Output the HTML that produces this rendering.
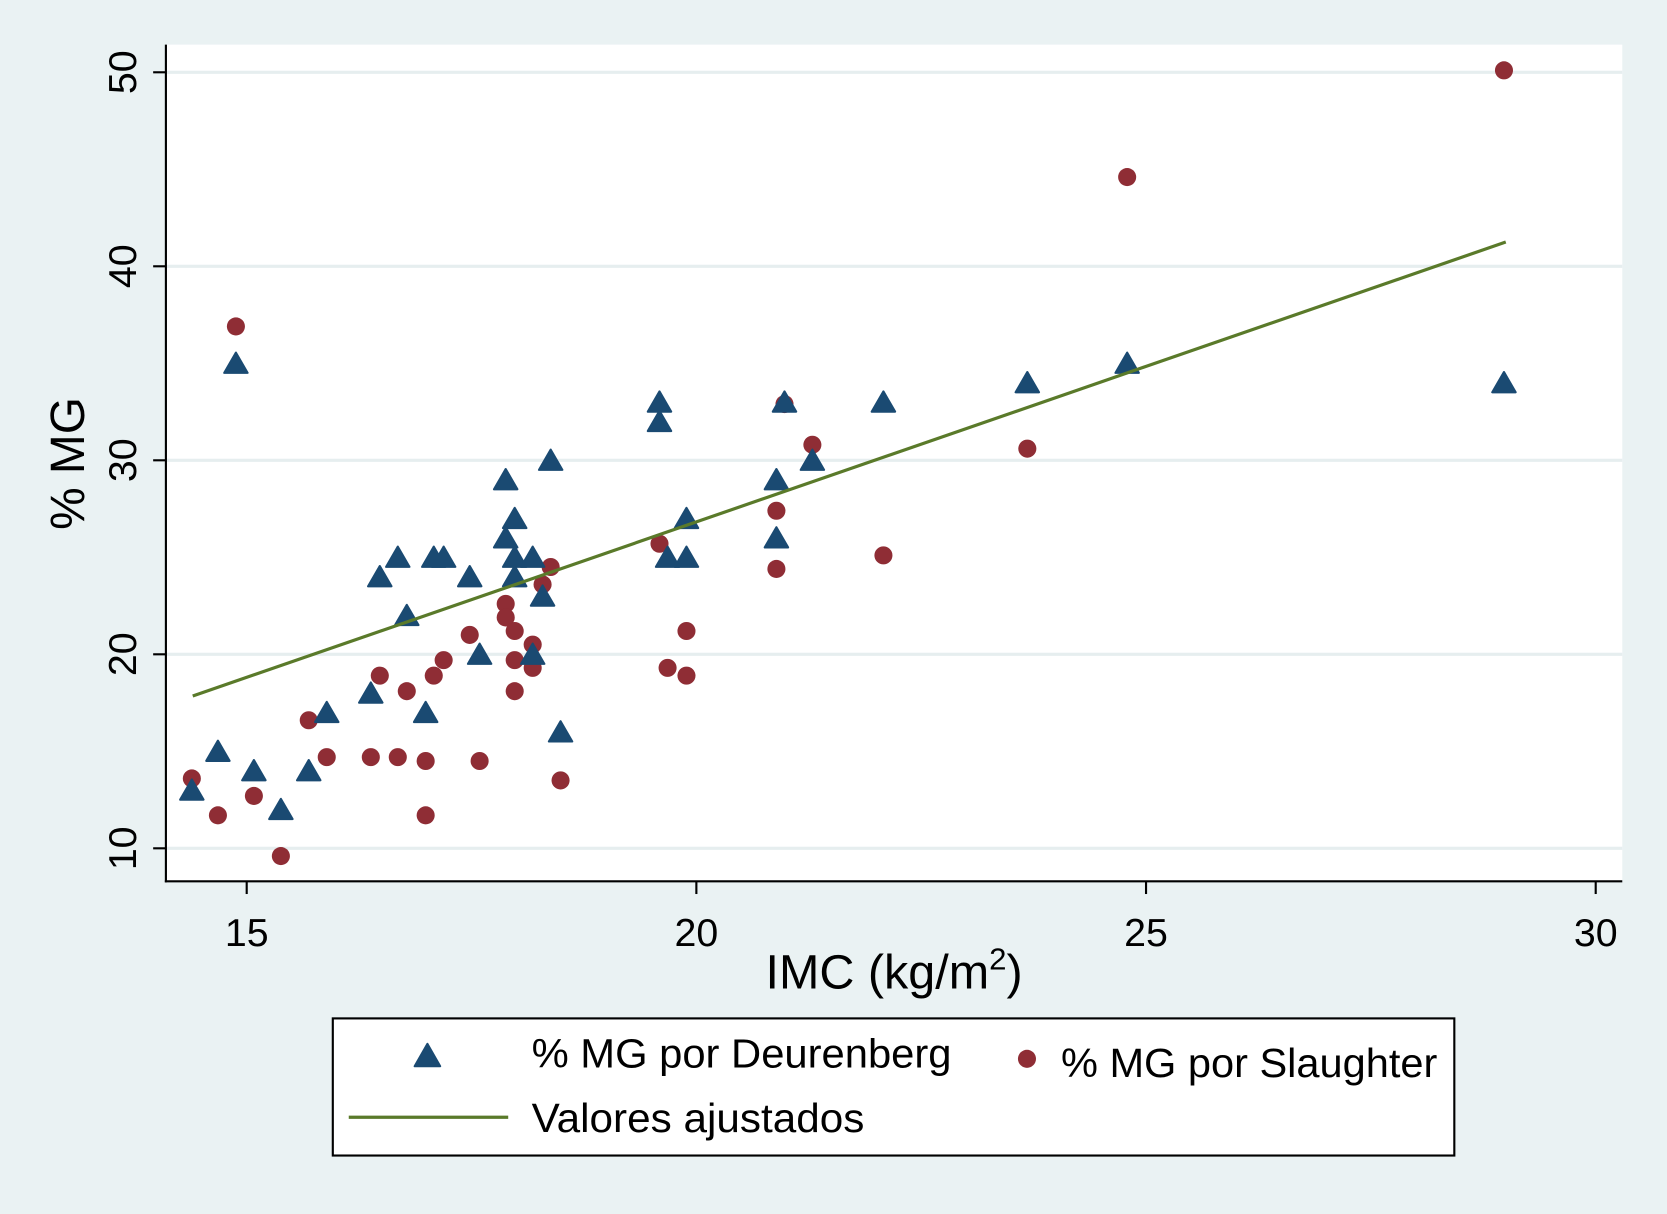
<!DOCTYPE html>
<html><head><meta charset="utf-8"><style>
html,body{margin:0;padding:0;background:#eaf2f3;}
svg{display:block;font-family:"Liberation Sans",sans-serif;}
</style></head><body>
<svg id="chart" width="1667" height="1214" viewBox="0 0 1568 1142">
<rect x="0" y="0" width="1568" height="1142" fill="#eaf2f3"/>
<rect x="156" y="42" width="1370" height="787" fill="#ffffff"/>
<g id="grid"></g><g id="axes"></g><g id="marks"></g>
<text x="720" y="930" font-size="45" textLength="242" lengthAdjust="spacingAndGlyphs" fill="#000">IMC (kg/m<tspan font-size="29" dy="-18">2</tspan><tspan dy="18">)</tspan></text>
<text transform="translate(79,436) rotate(-90)" font-size="45" text-anchor="middle" fill="#000">% MG</text>
<g>
<rect x="313" y="958" width="1055" height="129" fill="#ffffff" stroke="#000" stroke-width="2"/>
<polygon points="390,1003 414,1003 402,982" fill="#1a4a72" stroke="#1a4a72" stroke-width="2" stroke-linejoin="round"/>
<text x="500" y="1004" font-size="38.5" textLength="395" lengthAdjust="spacingAndGlyphs">% MG por Deurenberg</text>
<circle cx="966" cy="996" r="8.5" fill="#8f2d35"/>
<text x="998" y="1013" font-size="38.5" textLength="354" lengthAdjust="spacingAndGlyphs">% MG por Slaughter</text>
<line x1="328" y1="1051" x2="478" y2="1051" stroke="#5a7a2a" stroke-width="3"/>
<text x="500" y="1065" font-size="38.5" textLength="313" lengthAdjust="spacingAndGlyphs">Valores ajustados</text>
</g>
</svg>
<script>
const xTicks=[15,20,25,30];
const yTicks=[10,20,30,40,50];
const triX=[14.39,14.68,14.88,15.08,15.38,15.69,15.89,16.38,16.48,16.68,16.78,16.99,17.08,17.19,17.48,17.59,17.88,17.88,17.98,17.98,17.98,18.18,18.18,18.29,18.38,18.49,19.59,19.59,19.68,19.89,19.89,20.89,20.89,20.98,21.29,22.08,23.68,24.79,28.98];
const triY=[13,15,35,14,12,14,17,18,24,25,22,17,25,25,24,20,29,26,27,25,24,25,20,23,30,16,33,32,25,27,25,29,26,33,30,33,34,35,34];
const cirX=[14.39,14.68,14.88,15.08,15.38,15.69,15.89,16.38,16.48,16.68,16.78,16.99,16.99,17.08,17.19,17.48,17.59,17.88,17.88,17.98,17.98,17.98,18.18,18.18,18.29,18.38,18.49,19.59,19.68,19.89,19.89,20.89,20.89,20.98,21.29,22.08,23.68,24.79,28.98];
const cirY=[13.6,11.7,36.9,12.7,9.6,16.6,14.7,14.7,18.9,14.7,18.1,14.5,11.7,18.9,19.7,21.0,14.5,22.6,21.9,21.2,19.7,18.1,20.5,19.3,23.6,24.5,13.5,25.7,19.3,21.2,18.9,27.4,24.4,32.9,30.8,25.1,30.6,44.6,50.1];
const fitX=[14.4,29.0];
const fitY=[17.85,41.25];
const NS="http://www.w3.org/2000/svg";
function sx(v){return 232+(v-15)*84.6;}
function sy(v){return 798-(v-10)*18.25;}
function mk(tag,attrs,parent){const e=document.createElementNS(NS,tag);for(const k in attrs)e.setAttribute(k,attrs[k]);document.getElementById(parent).appendChild(e);return e;}
yTicks.forEach(t=>{
  const g=mk('line',{x1:156,x2:1526,y1:sy(t),y2:sy(t),stroke:'#e6eeef','stroke-width':3},'grid');
  
  
  const tk=mk('line',{x1:144,x2:156,y1:sy(t),y2:sy(t),stroke:'#000','stroke-width':2},'axes');
  
  
  const lb=mk('text',{transform:'translate(128,'+sy(t)+') rotate(-90)','font-size':37,'text-anchor':'middle'},'axes');
  lb.textContent=t;
  
  
});
xTicks.forEach(t=>{
  const tk=mk('line',{x1:sx(t),x2:sx(t),y1:829,y2:841,stroke:'#000','stroke-width':2},'axes');
  
  
  const lb=mk('text',{x:sx(t),y:890,'font-size':37,'text-anchor':'middle'},'axes');
  lb.textContent=t;
  
  
});
const ya=mk('line',{x1:156,x2:156,y1:42,y2:830,stroke:'#000','stroke-width':2},'axes');


const xa=mk('line',{x1:155,x2:1526,y1:829,y2:829,stroke:'#000','stroke-width':2},'axes');


cirX.forEach((v,i)=>{
  const c=mk('circle',{cx:sx(v),cy:sy(cirY[i]),r:8.5,fill:'#8f2d35'},'marks');
  
  
});
triX.forEach((v,i)=>{
  const x=sx(v),y=sy(triY[i]);
  const p=mk('polygon',{points:(x-11)+','+(y+9)+' '+(x+11)+','+(y+9)+' '+x+','+(y-10),fill:'#1a4a72',stroke:'#1a4a72','stroke-width':2,'stroke-linejoin':'round'},'marks');
  
  
});
const fl=mk('polyline',{points:fitX.map((v,i)=>sx(v)+','+sy(fitY[i])).join(' '),fill:'none',stroke:'#5a7a2a','stroke-width':3},'marks');


</script>
</body></html>
